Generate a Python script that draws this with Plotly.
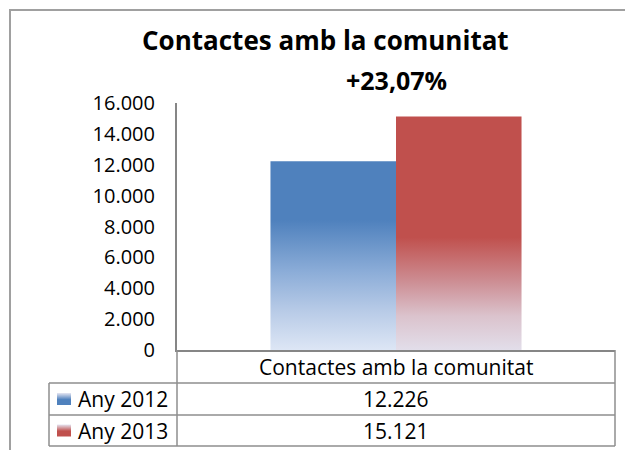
import plotly.graph_objects as go

# ---- data ----
title = "Contactes amb la comunitat"
subtitle = "+23,07%"
category = "Contactes amb la comunitat"
series_names = ["Any 2012", "Any 2013"]
series_values = [12226, 15121]
y_ticks = [0, 2000, 4000, 6000, 8000, 10000, 12000, 14000, 16000]

# ---- style ----
W, H = 625, 450
FONT = "Open Sans"
solid = ["#4F81BD", "#C0504D"]
scales = [
    [[0, "#DDE6F5"], [0.3, "#B8CBE7"], [0.6, "#8CADD8"], [1, "#4F81BD"]],
    [[0, "#E2DEEA"], [0.3, "#DBC3CD"], [0.6, "#CD8F95"], [1, "#C0504D"]],
]
grad_stop = [8400, 7300]
bar_w = 0.2866
GRID = "#8E8E8E"


def px(x):
    return x / W


def py(y):
    return 1 - y / H


def fmt(v):
    return f"{v:,}".replace(",", ".")


fig = go.Figure()

for i, (name, v) in enumerate(zip(series_names, series_values)):
    x0 = -bar_w + i * bar_w
    x1 = x0 + bar_w
    fig.add_trace(go.Scatter(
        x=[x0, x0, x1, x1, x0], y=[0, v, v, 0, 0],
        mode="lines", fill="toself", name=name,
        line=dict(width=0, color="rgba(0,0,0,0)"),
        fillgradient=dict(type="vertical", colorscale=scales[i], start=0, stop=grad_stop[i]),
        showlegend=False, hoverinfo="skip",
    ))

# legend keys in the data table (pixel overlay axes)
key_x0, key_x1 = 57, 71
row_centers = [399, 430.5]
for i in range(len(series_names)):
    yc = row_centers[i]
    fig.add_trace(go.Scatter(
        x=[key_x0, key_x0, key_x1, key_x1, key_x0],
        y=[yc + 6, yc - 6, yc - 6, yc + 6, yc + 6],
        xaxis="x2", yaxis="y2", mode="lines", fill="toself",
        line=dict(width=0, color="rgba(0,0,0,0)"),
        fillgradient=dict(type="vertical", colorscale=[[0, "#E6E6F2"], [0.55, solid[i]], [1, solid[i]]],
                          start=yc - 6, stop=yc + 6),
        showlegend=False, hoverinfo="skip",
    ))

shapes = []


def line(x0, y0, x1, y1, color=GRID, w=1.5):
    shapes.append(dict(type="line", xref="paper", yref="paper",
                       x0=px(x0), y0=py(y0), x1=px(x1), y1=py(y1),
                       line=dict(color=color, width=w)))


# outer chart frame (clipped at right/bottom)
line(9, 10, 625, 10, "#A0A0A0", 2)
line(10, 10, 10, 450, "#A0A0A0", 2)

# data table grid
line(177, 350, 177, 446)
line(615, 350, 615, 446)
line(49, 383, 49, 446)
line(49, 383, 615, 383)
line(49, 415, 615, 415)
line(49, 446, 615, 446)


def ann(text, x, y, size, xanchor="center"):
    return dict(text=text, x=px(x), y=py(y), xref="paper", yref="paper",
                xanchor=xanchor, yanchor="middle", showarrow=False,
                font=dict(size=size, color="#000000", family=FONT))


annotations = [
    ann(f"<b>{title}</b>", 326, 40, 26),
    ann(f"<b>{subtitle}</b>", 396, 80, 25),
    ann(category, 396, 366.5, 21),
]
for i, (name, v) in enumerate(zip(series_names, series_values)):
    annotations.append(ann(name, 76, row_centers[i], 21, "left"))
    annotations.append(ann(fmt(v), 396, row_centers[i], 21))

fig.update_layout(
    template="none",
    width=W, height=H,
    margin=dict(l=0, r=0, t=0, b=0, pad=0, autoexpand=False),
    paper_bgcolor="white", plot_bgcolor="rgba(0,0,0,0)",
    separators=",.",
    showlegend=False,
    font=dict(family=FONT, color="#000000"),
    xaxis=dict(domain=[px(177), px(615)], range=[-0.5, 0.5], showline=True,
               linecolor="#868686", linewidth=2, showticklabels=False, ticks="",
               showgrid=False, zeroline=False, fixedrange=True, automargin=False),
    yaxis=dict(domain=[py(350), py(103)], range=[0, 16000], showline=True,
               linecolor="#868686", linewidth=2, tickvals=y_ticks,
               tickformat=",d", ticks="", ticklabelstandoff=16,
               tickfont=dict(size=20, color="#000000", family=FONT),
               showgrid=False, zeroline=False, fixedrange=True, automargin=False),
    xaxis2=dict(domain=[0, 1], range=[0, W], anchor="y2", visible=False, fixedrange=True,
                automargin=False),
    yaxis2=dict(domain=[0, 1], range=[H, 0], anchor="x2", visible=False, fixedrange=True,
                automargin=False),
    shapes=shapes,
    annotations=annotations,
)

fig.write_html("out.html", config={"displayModeBar": False},
               post_script="document.body.style.margin='0';document.body.style.overflow='hidden';")
